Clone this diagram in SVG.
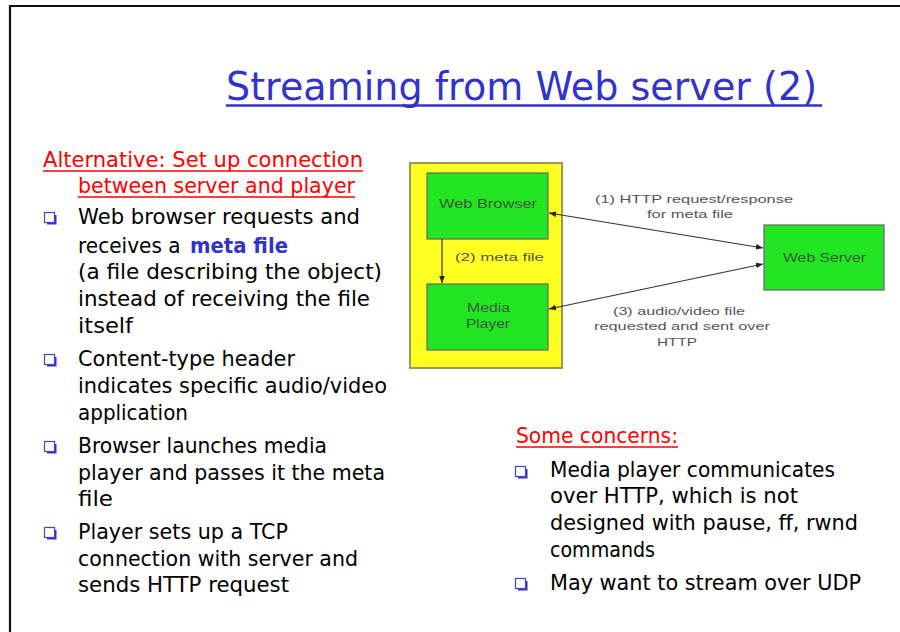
<svg xmlns="http://www.w3.org/2000/svg" width="900" height="632" viewBox="0 0 900 632">
<style>
.body{font-family:"DejaVu Sans","Liberation Sans",sans-serif;font-size:22px;fill:#000}
.red{font-family:"DejaVu Sans","Liberation Sans",sans-serif;font-size:22px;fill:#ff0000}
.title{font-family:"DejaVu Sans","Liberation Sans",sans-serif;font-size:39px;fill:#3333cc}
.meta{font-weight:bold;fill:#3333cc}
.ul-red{stroke:#ff0000;stroke-width:1.5}
.ul-blue{stroke:#3333cc;stroke-width:2.5}
.bul{fill:#fff;stroke:#4444cc;stroke-width:1.2}
.bsh{fill:none;stroke:#3333bb;stroke-width:2}
.box{fill:#22e622;stroke:#666666;stroke-width:1.2}
.lbl{font-family:"Liberation Sans",Arial,sans-serif;font-size:11.5px;fill:#555555}
.nlbl{font-family:"Liberation Sans",Arial,sans-serif;font-size:12px;fill:#3a5a3a}
.conn{stroke:#333333;stroke-width:1.2;fill:none}
</style>
<defs>
<marker id="ah" viewBox="0 0 10 10" refX="10" refY="5" markerWidth="7" markerHeight="7" orient="auto-start-reverse" markerUnits="userSpaceOnUse">
<path d="M0,1 L10,5 L0,9 z" fill="#222222"/>
</marker>
<g id="bullet">
<path class="bsh" d="M3,11.5 H11.5 V3"/>
<rect class="bul" x="0.5" y="0.5" width="10" height="10"/>
</g>
</defs>

<rect x="0" y="0" width="900" height="632" fill="#ffffff"/>
<path d="M10,632 V6 H900" fill="none" stroke="#111111" stroke-width="2.2"/>

<g id="title">
<text class="title" x="226" y="100" textLength="591" lengthAdjust="spacingAndGlyphs">Streaming from Web server (2)</text>
<line class="ul-blue" x1="226" y1="105.5" x2="822" y2="105.5"/>
</g>

<g id="left-text">
<text class="red" x="43" y="167" textLength="320" lengthAdjust="spacingAndGlyphs">Alternative: Set up connection</text>
<line class="ul-red" x1="43" y1="171" x2="363" y2="171"/>
<text class="red" x="78" y="193" textLength="277" lengthAdjust="spacingAndGlyphs">between server and player</text>
<line class="ul-red" x1="78" y1="197" x2="355" y2="197"/>

<use href="#bullet" x="44" y="212"/>
<text class="body" x="78" y="224" textLength="282" lengthAdjust="spacingAndGlyphs">Web browser requests and</text>
<text class="body" y="253"><tspan x="78" textLength="109" lengthAdjust="spacingAndGlyphs">receives a </tspan><tspan class="meta" x="190" textLength="98" lengthAdjust="spacingAndGlyphs">meta file</tspan></text>
<text class="body" x="78" y="279" textLength="304" lengthAdjust="spacingAndGlyphs">(a file describing the object)</text>
<text class="body" x="78" y="306" textLength="292" lengthAdjust="spacingAndGlyphs">instead of receiving the file</text>
<text class="body" x="78" y="333" textLength="55" lengthAdjust="spacingAndGlyphs">itself</text>

<use href="#bullet" x="44" y="354"/>
<text class="body" x="78" y="366" textLength="217" lengthAdjust="spacingAndGlyphs">Content-type header</text>
<text class="body" x="78" y="393" textLength="309" lengthAdjust="spacingAndGlyphs">indicates specific audio/video</text>
<text class="body" x="78" y="420" textLength="110" lengthAdjust="spacingAndGlyphs">application</text>

<use href="#bullet" x="44" y="441"/>
<text class="body" x="78" y="453" textLength="249" lengthAdjust="spacingAndGlyphs">Browser launches media</text>
<text class="body" x="78" y="480" textLength="307" lengthAdjust="spacingAndGlyphs">player and passes it the meta</text>
<text class="body" x="78" y="506" textLength="35" lengthAdjust="spacingAndGlyphs">file</text>

<use href="#bullet" x="44" y="527"/>
<text class="body" x="78" y="539" textLength="210" lengthAdjust="spacingAndGlyphs">Player sets up a TCP</text>
<text class="body" x="78" y="566" textLength="280" lengthAdjust="spacingAndGlyphs">connection with server and</text>
<text class="body" x="78" y="592" textLength="211" lengthAdjust="spacingAndGlyphs">sends HTTP request</text>
</g>

<g id="right-text">
<text class="red" x="516" y="443" textLength="162" lengthAdjust="spacingAndGlyphs">Some concerns:</text>
<line class="ul-red" x1="516" y1="447" x2="678" y2="447"/>
<use href="#bullet" x="515" y="466"/>
<text class="body" x="550" y="477" textLength="285" lengthAdjust="spacingAndGlyphs">Media player communicates</text>
<text class="body" x="550" y="503" textLength="248" lengthAdjust="spacingAndGlyphs">over HTTP, which is not</text>
<text class="body" x="550" y="530" textLength="308" lengthAdjust="spacingAndGlyphs">designed with pause, ff, rwnd</text>
<text class="body" x="550" y="557" textLength="105" lengthAdjust="spacingAndGlyphs">commands</text>
<use href="#bullet" x="515" y="578"/>
<text class="body" x="550" y="590" textLength="311" lengthAdjust="spacingAndGlyphs">May want to stream over UDP</text>
</g>

<g id="client-host">
<rect x="410" y="163" width="152" height="205" fill="#ffff22" stroke="#999955" stroke-width="2"/>
</g>

<g id="web-browser">
<rect class="box" x="427" y="173" width="121" height="66"/>
<text class="nlbl" x="439" y="208" textLength="98" lengthAdjust="spacingAndGlyphs">Web Browser</text>
</g>

<g id="media-player">
<rect class="box" x="427" y="284" width="121" height="66"/>
<text class="nlbl" x="467" y="312" textLength="43" lengthAdjust="spacingAndGlyphs">Media</text>
<text class="nlbl" x="466" y="328" textLength="44" lengthAdjust="spacingAndGlyphs">Player</text>
</g>

<g id="web-server">
<rect class="box" x="764" y="225" width="120" height="65"/>
<text class="nlbl" x="783" y="262" textLength="83" lengthAdjust="spacingAndGlyphs">Web Server</text>
</g>

<g id="connectors">
<line class="conn" x1="442" y1="239" x2="442" y2="283" marker-end="url(#ah)"/>
<line class="conn" x1="549" y1="213" x2="763" y2="248" marker-start="url(#ah)" marker-end="url(#ah)"/>
<line class="conn" x1="549" y1="309" x2="763" y2="264" marker-start="url(#ah)" marker-end="url(#ah)"/>
<text class="lbl" x="455" y="261" textLength="89" lengthAdjust="spacingAndGlyphs">(2)  meta file</text>
<text class="lbl" x="595" y="203" textLength="198" lengthAdjust="spacingAndGlyphs">(1) HTTP request/response</text>
<text class="lbl" x="647" y="218" textLength="86" lengthAdjust="spacingAndGlyphs">for meta file</text>
<text class="lbl" x="613" y="315" textLength="132" lengthAdjust="spacingAndGlyphs">(3) audio/video file</text>
<text class="lbl" x="594" y="330" textLength="176" lengthAdjust="spacingAndGlyphs">requested and sent over</text>
<text class="lbl" x="657" y="346" textLength="40" lengthAdjust="spacingAndGlyphs">HTTP</text>
</g>
</svg>
